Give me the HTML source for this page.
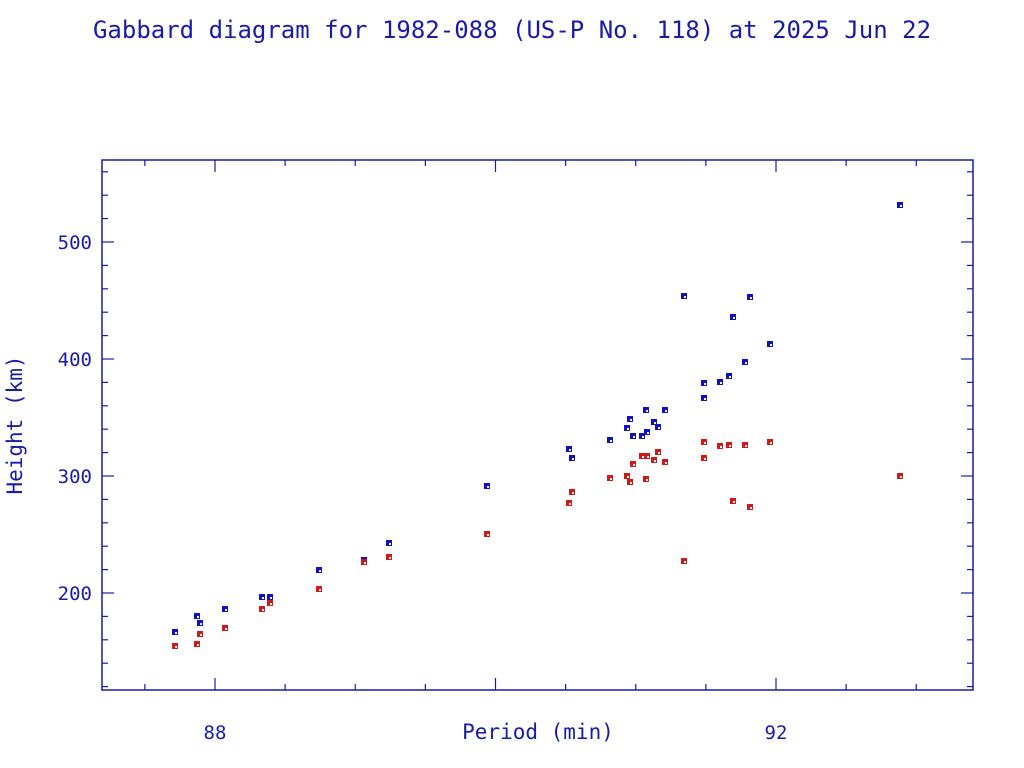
<!DOCTYPE html><html><head><style>body{margin:0;background:#fff}svg{display:block}text{font-family:"DejaVu Sans Mono","Liberation Mono",monospace;fill:#1a1aaa}</style></head><body>
<svg width="1024" height="768" viewBox="0 0 1024 768">
<text x="512" y="38" font-size="24" text-anchor="middle">Gabbard diagram for 1982-088 (US-P No. 118) at 2025 Jun 22</text>
<rect x="102" y="160" width="871" height="530" fill="none" stroke="#1a1aaa" stroke-width="1.5"/>
<g id="t" stroke="#1a1aaa" stroke-width="1.2"></g>
<text x="215" y="739" font-size="19" text-anchor="middle">88</text>
<text x="776" y="739" font-size="19" text-anchor="middle">92</text>
<text x="92" y="249" font-size="19" text-anchor="end">500</text>
<text x="92" y="366" font-size="19" text-anchor="end">400</text>
<text x="92" y="483" font-size="19" text-anchor="end">300</text>
<text x="92" y="600" font-size="19" text-anchor="end">200</text>
<text x="538" y="739" font-size="21" text-anchor="middle">Period (min)</text>
<text transform="translate(22,425) rotate(-90)" font-size="21" text-anchor="middle">Height (km)</text>
<g id="p"></g>
</svg>
<script>
var t=document.getElementById('t'),s='';
function L(a,b,c,d){s+='<line x1="'+a+'" y1="'+b+'" x2="'+c+'" y2="'+d+'"/>';}
for(var v=87.5;v<=93.3;v+=0.5){var x=215+(v-88)*140.25;if(x<=102||x>=973)continue;var maj=Math.abs(v-Math.round(v/2)*2)<0.01;var l=maj?12:6;L(x,690,x,690-l);L(x,160,x,160+l);}
for(var h=120;h<=560;h+=20){var y=476-(h-300)*1.17;if(y>=690||y<=160)continue;var l=(h%100==0)?12:6;L(102,y,102+l,y);L(973,y,973-l,y);}
t.innerHTML=s;
var B=[[175,632],[197,616],[200,623],[225,609],[262,597],[270,597],[319,570],[364,560],[389,543],[487,486],[569,449],[572,458],[610,440],[627,428],[630,419],[633,436],[642,436],[646,410],[647,432],[654,422],[658,427],[665,410],[684,296],[704,383],[704,398],[720,382],[729,376],[733,317],[745,362],[750,297],[770,344],[900,205]];
var R=[[175,646],[197,644],[200,634],[225,628],[262,609],[270,603],[319,589],[364,562],[389,557],[487,534],[569,503],[572,492],[610,478],[627,476],[630,482],[633,464],[642,456],[646,479],[647,456],[654,460],[658,452],[665,462],[684,561],[704,442],[704,458],[720,446],[729,445],[733,501],[745,445],[750,507],[770,442],[900,476]];
var q='';
B.forEach(function(p){q+='<rect x="'+(p[0]-3)+'" y="'+(p[1]-3)+'" width="6" height="6" fill="#1010cc"/><rect x="'+(p[0])+'" y="'+(p[1])+'" width="2" height="2" fill="#fff"/>';});
R.forEach(function(p){q+='<rect x="'+(p[0]-3)+'" y="'+(p[1]-3)+'" width="6" height="6" fill="#d41818"/><rect x="'+(p[0])+'" y="'+(p[1])+'" width="2" height="2" fill="#fff"/>';});
document.getElementById('p').innerHTML=q;
</script>
</body></html>
